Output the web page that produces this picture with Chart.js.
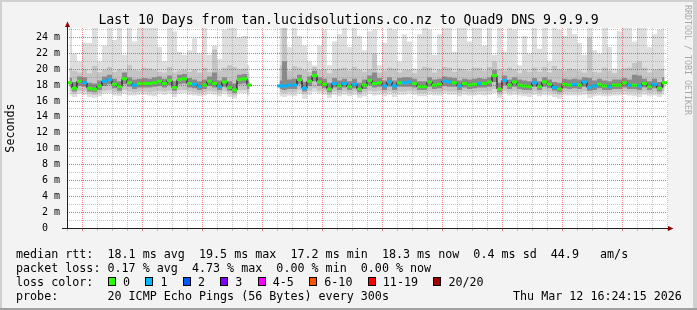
<!DOCTYPE html>
<html>
<head>
<meta charset="utf-8">
<script src="https://cdn.jsdelivr.net/npm/chart.js@4.4.1/dist/chart.umd.min.js"></script>
<style>
  html, body { margin: 0; padding: 0; background: #f3f3f3; }
  #wrap { position: relative; width: 697px; height: 310px; background: #f3f3f3; overflow: hidden;
          font-family: 'DejaVu Sans Mono', monospace; color: #000; }
  #c { position: absolute; left: 0; top: 0; }
  .edge { position: absolute; }
  #title { position: absolute; left: 0; width: 697px; text-align: center; top: 11.5px;
           font-size: 13.2px; line-height: 16px; white-space: pre; }
  .row { position: absolute; left: 16px; font-size: 11.7px; line-height: 14px; white-space: pre; }
  .box { display: inline-block; width: 8px; height: 9px; border: 1px solid #000; box-sizing: border-box; margin-right: 7px; }
  .gap { display: inline-block; width: 15.4px; }
  #mark { position: absolute; left: 683px; top: 5px; font-size: 8.3px; line-height: 10px; color: #a8a8a8;
          writing-mode: vertical-rl; white-space: pre; }
</style>
</head>
<body>
<div id="wrap">
  <div class="edge" style="left:0;top:0;width:697px;height:2px;background:#d0d0d0"></div>
  <div class="edge" style="left:0;top:0;width:2px;height:310px;background:#d0d0d0"></div>
  <div class="edge" style="right:0;top:0;width:4px;height:310px;background:#d0d0d0"></div>
  <div class="edge" style="left:0;bottom:0;width:697px;height:2px;background:#a0a0a0"></div>
  <canvas id="c" width="697" height="310"></canvas>
  <div id="title"></div>
  <div id="mark">RRDTOOL / TOBI OETIKER</div>
  <div class="row" id="r1" style="top:247px"></div>
  <div class="row" id="r2" style="top:261px"></div>
  <div class="row" id="r3" style="top:275px"></div>
  <div class="row" id="r4" style="top:289px"></div>
  <div class="row" id="r5" style="top:289px;left:513px"></div>
</div>
<script>
// ---------------- data ----------------
const chartTitle = 'Last 10 Days from tan.lucidsolutions.co.nz to Quad9 DNS 9.9.9.9';
const dayLabels = ['03 Mar','04 Mar','05 Mar','06 Mar','07 Mar','08 Mar','09 Mar','10 Mar','11 Mar','12 Mar'];
// x axis in hours relative to 03 Mar 00:00; one sample every 2 hours
const axisStartHour = -7.2, axisEndHour = 232.8, firstSampleHour = -6.2, sampleStepHours = 2;

// median rtt (ms)
const median = [
 18.3,17.6,18.5,18.3,17.6,17.5,17.9,18.5,18.7,18.1,
 17.8,18.8,18.3,18.0,18.2,18.2,18.2,18.3,18.5,18.2,
 18.6,17.7,18.7,18.8,18.2,18.1,17.8,18.0,18.5,18.2,
 17.8,18.4,17.7,17.4,18.7,18.8,18.0,null,null,null,
 null,null,17.9,17.9,18.0,18.0,18.7,17.6,18.5,19.2,
 18.4,18.1,17.5,18.2,17.9,18.2,17.8,18.1,17.5,18.0,
 18.6,18.2,18.3,17.9,18.4,17.9,18.3,18.3,18.4,18.2,
 17.8,17.8,18.4,18.0,18.1,18.5,18.4,18.3,17.9,18.2,
 18.0,18.1,18.2,18.2,18.4,19.2,17.5,18.6,18.0,18.4,
 18.0,17.9,17.8,18.3,17.8,18.4,18.1,17.7,17.5,18.1,
 18.0,18.1,18.0,18.4,17.7,17.9,18.1,17.9,17.8,18.0,
 18.0,18.3,18.0,18.0,17.9,18.2,17.8,18.1,17.6,18.3];
// lost pings per sample
const lossCount = [
 0,0,0,1,0,0,0,1,1,0,
 0,0,0,1,0,0,0,0,0,0,
 0,0,0,0,0,1,1,0,0,0,
 1,0,0,0,0,0,0,null,null,null,
 null,null,1,1,1,1,0,1,0,0,
 0,0,0,1,0,1,0,1,0,0,
 0,0,0,1,1,1,0,1,1,0,
 0,0,0,0,0,1,1,0,1,0,
 0,0,1,0,0,0,0,1,0,0,
 0,0,0,1,0,0,0,1,0,0,
 0,1,0,1,1,1,0,0,1,0,
 0,0,1,0,1,0,0,1,0,0];
// smoke: slowest ping
const pingMax = [
 25.5,22.0,21.0,23.3,23.3,25.5,21.0,23.0,25.5,23.7,
 25.5,21.8,25.5,23.5,25.5,25.5,25.5,25.5,22.8,21.0,
 25.5,24.8,22.2,21.8,22.4,23.9,22.0,25.5,21.8,23.0,
 21.3,25.0,25.5,25.5,24.0,24.2,20.5,null,null,null,
 null,null,25.5,25.5,22.8,25.5,24.2,23.0,21.0,20.5,
 23.0,25.0,20.5,23.5,24.4,25.5,22.8,25.5,24.2,22.4,
 24.8,25.0,20.5,23.3,25.5,25.0,21.0,24.4,23.5,20.1,
 24.4,25.5,25.0,21.8,24.4,25.5,25.5,22.2,25.5,25.5,
 23.5,25.5,25.5,23.0,25.5,21.8,25.5,22.2,25.5,25.0,
 20.5,24.2,22.0,25.5,22.6,25.5,21.0,25.5,25.0,24.2,
 25.5,24.4,23.3,21.8,25.5,22.4,22.0,25.5,22.8,20.1,
 24.8,25.5,25.5,23.5,25.5,25.5,22.8,24.4,25.0,25.5];
// smoke: upper edge of the medium band
const pingHigh = [
 20.2,19.8,19.6,20.0,19.5,20.4,19.6,19.9,20.3,19.7,
 20.0,19.8,20.5,19.9,19.8,20.2,20.1,19.9,19.7,19.6,
 20.3,19.6,19.8,19.9,19.7,20.0,19.6,20.2,19.7,22.5,
 19.8,20.2,20.5,20.3,20.0,20.1,19.5,null,null,null,
 null,null,20.5,25.5,19.8,20.4,20.2,19.9,19.7,20.3,
 19.9,20.0,19.5,20.0,20.1,20.2,19.8,20.3,19.9,19.7,
 20.0,22.0,19.6,19.8,20.2,20.1,19.6,19.9,19.9,19.5,
 19.9,20.3,20.2,19.6,19.9,20.3,20.2,19.7,20.1,20.0,
 19.8,20.2,20.2,19.8,20.3,21.0,20.0,19.8,20.2,20.0,
 19.5,19.9,19.7,20.2,19.7,20.3,19.6,20.4,20.0,19.8,
 20.1,19.9,19.8,19.6,24.0,19.7,19.6,20.2,19.8,19.5,
 19.9,20.1,20.2,20.8,21.0,20.2,19.6,19.9,20.0,20.1];
// smoke: upper edge of the dark core
const pingUpper = [
 18.9,18.4,19.1,19.0,18.3,18.2,18.6,19.1,19.3,18.8,
 18.5,19.6,19.0,18.7,18.8,18.9,18.8,19.0,19.1,18.8,
 19.2,18.5,19.3,19.4,18.9,18.7,18.5,18.7,19.1,19.6,
 18.6,19.0,18.5,18.2,19.3,19.4,18.6,null,null,null,
 null,null,18.6,21.0,18.7,18.8,19.3,18.4,19.1,19.8,
 19.0,18.8,18.3,18.9,18.6,18.8,18.5,18.8,18.3,18.7,
 19.2,19.6,18.9,18.6,19.0,18.6,18.9,19.0,19.0,18.8,
 18.5,18.5,19.0,18.7,18.8,19.1,19.0,18.9,18.6,18.8,
 18.7,18.8,18.9,18.8,19.0,19.9,18.3,19.2,18.7,19.0,
 18.7,18.6,18.5,18.9,18.5,19.0,18.7,18.4,18.3,18.8,
 18.7,18.8,18.7,19.0,18.9,18.6,18.8,18.6,18.5,18.7,
 18.7,18.9,18.7,19.3,19.2,18.8,18.5,18.8,18.4,19.0];
// smoke: lower edge of the dark core
const pingLower = [
 17.8,17.2,17.9,17.8,17.2,17.1,17.4,17.9,18.1,17.6,
 17.3,18.1,17.8,17.5,17.7,17.7,17.7,17.8,17.9,17.7,
 18.0,17.3,18.1,18.2,17.7,17.6,17.4,17.5,17.9,17.7,
 17.4,17.8,17.3,17.0,18.1,18.2,17.5,null,null,null,
 null,null,17.5,17.4,17.5,17.5,18.1,17.2,17.9,18.5,
 17.9,17.6,17.1,17.7,17.4,17.7,17.4,17.6,17.1,17.5,
 18.0,17.7,17.8,17.4,17.8,17.4,17.8,17.8,17.8,17.7,
 17.4,17.4,17.8,17.5,17.6,17.9,17.8,17.8,17.4,17.7,
 17.5,17.6,17.7,17.7,17.8,18.4,17.1,18.0,17.5,17.8,
 17.5,17.4,17.4,17.8,17.4,17.8,17.6,17.3,17.1,17.6,
 17.5,17.6,17.5,17.8,17.3,17.4,17.6,17.4,17.4,17.5,
 17.5,17.7,17.5,17.5,17.4,17.7,17.4,17.6,17.2,17.7];
// smoke: lower edge of the medium band
const pingLow = [
 17.2,16.9,17.3,17.2,16.9,16.8,17.0,17.3,17.4,17.1,
 17.0,17.4,17.2,17.1,17.2,17.2,17.1,17.2,17.3,17.2,
 17.3,16.9,17.4,17.4,17.2,17.1,17.0,17.1,17.3,17.2,
 17.0,17.3,16.9,16.7,17.4,17.4,17.1,null,null,null,
 null,null,17.1,17.0,17.1,17.1,17.4,16.9,17.3,17.6,
 17.3,17.2,16.8,17.2,17.0,17.2,17.0,17.2,16.8,17.1,
 17.3,17.2,17.3,17.0,17.2,17.0,17.2,17.2,17.3,17.2,
 17.0,17.0,17.2,17.1,17.1,17.3,17.2,17.2,17.0,17.2,
 17.1,17.1,17.2,17.2,17.2,17.5,16.8,17.3,17.1,17.2,
 17.1,17.0,17.0,17.2,17.0,17.2,17.1,16.9,16.8,17.1,
 17.1,17.1,17.1,17.2,16.9,17.0,17.1,17.0,17.0,17.1,
 17.1,17.2,17.1,17.1,17.0,17.2,17.0,17.1,16.9,17.2];
// smoke: fastest ping
const pingMin = [
 16.8,16.5,16.9,16.8,16.5,16.4,16.6,16.9,17.0,16.7,
 16.6,16.9,16.7,16.7,16.8,16.8,16.7,16.6,16.9,16.8,
 16.9,16.5,16.9,17.0,16.8,16.7,16.6,16.7,16.9,16.8,
 16.6,16.9,16.5,16.3,17.0,17.0,16.7,null,null,null,
 null,null,16.6,16.5,16.7,16.6,16.9,16.3,16.8,17.1,
 16.9,16.8,16.4,16.8,16.6,16.8,16.6,16.8,16.4,16.6,
 16.9,16.7,16.8,16.6,16.8,16.5,16.8,16.8,16.9,16.8,
 16.6,16.6,16.8,16.7,16.7,16.9,16.8,16.8,16.6,16.8,
 16.7,16.7,16.8,16.7,16.8,17.0,16.4,16.9,16.7,16.8,
 16.7,16.6,16.5,16.8,16.6,16.8,16.7,16.5,16.3,16.7,
 16.7,16.7,16.7,16.8,16.4,16.6,16.7,16.6,16.6,16.7,
 16.7,16.8,16.7,16.6,16.5,16.8,16.6,16.7,16.5,16.8];

const lossLabels = ['0','1','2','3','4-5','6-10','11-19','20/20'];
const lossColors = ['#26ff00','#00b8ff','#0059ff','#7e00ff','#ff00ff','#ff5500','#ff0000','#a10000'];
const statsRtt  = 'median rtt:  18.1 ms avg  19.5 ms max  17.2 ms min  18.3 ms now  0.4 ms sd  44.9   am/s';
const statsLoss = 'packet loss: 0.17 % avg  4.73 % max  0.00 % min  0.00 % now';
const probeText = 'probe:       20 ICMP Echo Pings (56 Bytes) every 300s';
const stampText = 'Thu Mar 12 16:24:15 2026';

// ---------------- text blocks ----------------
document.getElementById('title').textContent = chartTitle;
document.getElementById('r1').textContent = statsRtt;
document.getElementById('r2').textContent = statsLoss;
document.getElementById('r4').textContent = probeText;
document.getElementById('r5').textContent = stampText;
(function () {
  const r3 = document.getElementById('r3');
  r3.appendChild(document.createTextNode('loss color:'));
  const holder = document.createElement('span');
  holder.style.position = 'absolute';
  holder.style.left = '92px';
  holder.style.whiteSpace = 'pre';
  lossLabels.forEach((lab, k) => {
    const b = document.createElement('span');
    b.className = 'box';
    b.style.background = lossColors[k];
    holder.appendChild(b);
    holder.appendChild(document.createTextNode(lab));
    if (k < lossLabels.length - 1) {
      const g = document.createElement('span');
      g.className = 'gap';
      holder.appendChild(g);
    }
  });
  r3.appendChild(holder);
})();

// ---------------- chart ----------------
const hours = median.map((_, i) => firstSampleHour + sampleStepHours * i);
const pts = arr => arr.map((v, i) => ({ x: hours[i], y: v }));
const lossColor = c => c == null ? 'rgba(0,0,0,0)' : lossColors[c <= 3 ? c : c <= 5 ? 4 : c <= 10 ? 5 : c <= 19 ? 6 : 7];

const RED = 'rgba(230,50,50,0.6)';
const GRAY = 'rgba(140,140,140,0.5)';
// x grid colour per tick (ticks every 6 h starting at -6 h): midnights red
const xGridColors = [];
for (let h = -6; h <= 228; h += 6) xGridColors.push(((h % 24) + 24) % 24 === 0 ? RED : GRAY);

const band = (arr, color, fill) => ({
  data: pts(arr), stepped: 'middle', borderWidth: 0, pointRadius: 0,
  backgroundColor: color, borderColor: 'rgba(0,0,0,0)', fill: fill, spanGaps: false
});

const plotBg = {
  id: 'plotBg',
  beforeDraw(chart) {
    const { ctx, chartArea: a } = chart;
    ctx.save();
    ctx.fillStyle = '#ffffff';
    ctx.fillRect(a.left, a.top, a.right - a.left + 1, a.bottom - a.top);
    ctx.restore();
  }
};
const axisArrows = {
  id: 'axisArrows',
  afterDraw(chart) {
    const { ctx, chartArea: a } = chart;
    ctx.save();
    ctx.strokeStyle = '#202020'; ctx.lineWidth = 1;
    ctx.beginPath();
    ctx.moveTo(a.left - 5, a.bottom + 0.5); ctx.lineTo(a.right + 1, a.bottom + 0.5);
    ctx.moveTo(a.left + 0.5, a.bottom + 1); ctx.lineTo(a.left + 0.5, a.top - 2);
    ctx.stroke();
    ctx.fillStyle = '#900000';
    ctx.beginPath();
    ctx.moveTo(a.left - 2, a.top - 1); ctx.lineTo(a.left + 3, a.top - 1); ctx.lineTo(a.left + 0.5, a.top - 6.5);
    ctx.closePath(); ctx.fill();
    ctx.beginPath();
    ctx.moveTo(a.right + 1, a.bottom - 2); ctx.lineTo(a.right + 1, a.bottom + 3); ctx.lineTo(a.right + 6.5, a.bottom + 0.5);
    ctx.closePath(); ctx.fill();
    ctx.restore();
  }
};

Chart.defaults.font.family = "'DejaVu Sans Mono', monospace";
Chart.defaults.color = '#000';

new Chart(document.getElementById('c'), {
  type: 'line',
  data: {
    datasets: [
      { // loss-coloured median marks
        data: pts(median), showLine: false, pointStyle: 'line', pointRadius: 2.5, pointHoverRadius: 2.5,
        pointBorderWidth: 3,
        pointBorderColor: ctx => lossColor(lossCount[ctx.dataIndex]),
        pointBackgroundColor: ctx => lossColor(lossCount[ctx.dataIndex])
      },
      { // median line
        data: pts(median), stepped: 'middle', borderColor: '#000', borderWidth: 1, pointRadius: 0, fill: false, spanGaps: false
      },
      band(pingUpper, '#8a8a8a', '+1'),
      band(pingLower, 'rgba(0,0,0,0)', false),
      band(pingHigh, '#c4c4c4', '+1'),
      band(pingLow, 'rgba(0,0,0,0)', false),
      band(pingMax, '#dedede', '+1'),
      band(pingMin, 'rgba(0,0,0,0)', false)
    ]
  },
  options: {
    responsive: false, animation: false, devicePixelRatio: 1,
    events: [],
    layout: { padding: { left: 0, right: 30, top: 28, bottom: 62 } },
    plugins: { legend: { display: false }, tooltip: { enabled: false }, title: { display: false } },
    scales: {
      x: {
        type: 'linear', min: axisStartHour, max: axisEndHour,
        afterFit: s => { s.height = 20; },
        ticks: {
          stepSize: 6, autoSkip: false, maxRotation: 0, minRotation: 0, includeBounds: false,
          padding: 1, font: { size: 10 }, color: '#000',
          callback: v => {
            const h = Math.round(v);
            return (((h % 24) + 24) % 24 === 12) ? (dayLabels[(h - 12) / 24] || '') : '';
          }
        },
        grid: {
          z: 1,
          color: xGridColors,
          tickColor: xGridColors,
          tickLength: 3, drawTicks: true, lineWidth: 1
        },
        border: { display: false, dash: [1, 1] }
      },
      yMinor: { // minor (every 1 ms) horizontal grid
        type: 'linear', position: 'left', min: 0, max: 25.2,
        afterFit: s => { s.width = 0; },
        ticks: { display: false, stepSize: 1, autoSkip: false, includeBounds: false },
        grid: { z: 1, color: GRAY, drawTicks: false, lineWidth: 1 },
        border: { display: false, dash: [1, 1] }
      },
      y: {
        type: 'linear', position: 'left', min: 0, max: 25.2,
        afterFit: s => { s.width = 67; },
        ticks: {
          stepSize: 2, autoSkip: false, includeBounds: false, padding: 7, font: { size: 10 }, color: '#000',
          callback: v => (v === 0 ? '0  ' : v + ' m')
        },
        grid: { z: 2, color: RED, drawTicks: false, lineWidth: 1 },
        border: { display: false, dash: [1, 1] },
        title: { display: true, text: 'Seconds', font: { size: 11.7 }, color: '#000', padding: { top: 4, bottom: 0 } }
      }
    }
  },
  plugins: [plotBg, axisArrows]
});
</script>
</body>
</html>
